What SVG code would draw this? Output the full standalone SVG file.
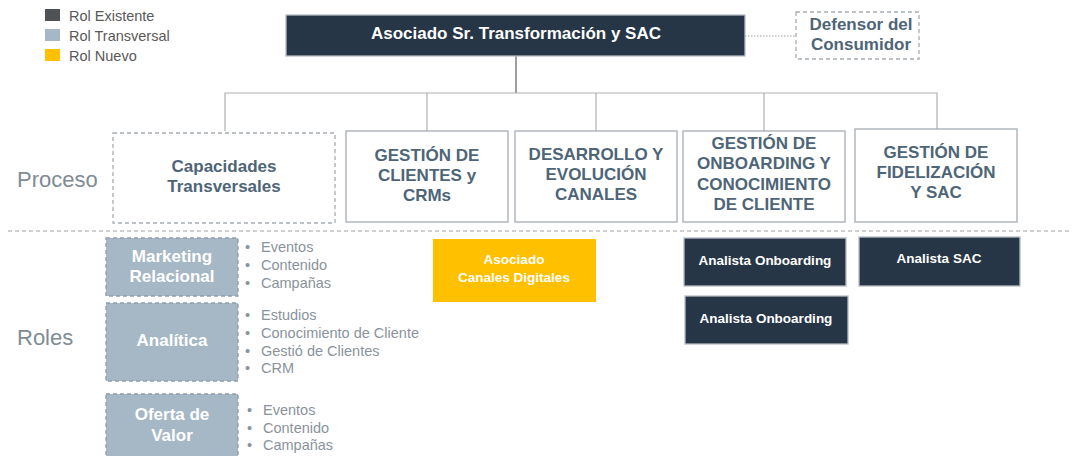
<svg xmlns="http://www.w3.org/2000/svg" width="1074" height="456" viewBox="0 0 1074 456">
<style>
text{font-family:"Liberation Sans",Arial,sans-serif}
.leg{font-size:14.5px;fill:#595959}
.proc{fill:#fff;stroke:#a6adb4;stroke-width:1.3}
.procd{fill:#fff;stroke:#a6adb4;stroke-width:1.3;stroke-dasharray:4 3}
.pt{font-size:17px;font-weight:bold;fill:#4e6578;text-anchor:middle}
.side{font-size:22px;fill:#7f8c96}
.trans{fill:#a6b8c6;stroke:#8e9daa;stroke-width:1.3;stroke-dasharray:4 3}
.tt{font-size:17px;font-weight:bold;fill:#fff;text-anchor:middle}
.bl{font-size:14.5px;fill:#8a939b}
.dark{fill:#263646;stroke:#b5bcc3;stroke-width:1.3}
.dt{font-size:13.5px;font-weight:bold;fill:#fff;text-anchor:middle}
.conn{fill:none;stroke:#b0b0b0;stroke-width:1.2}
</style>
<g id="legend">
<rect x="45" y="9" width="15" height="12" fill="#505356"/>
<rect x="45" y="29" width="15" height="12" fill="#a6b8c6"/>
<rect x="45" y="49" width="15" height="12" fill="#ffc000"/>
<text class="leg" x="69" y="21">Rol Existente</text>
<text class="leg" x="69" y="41">Rol Transversal</text>
<text class="leg" x="69" y="61">Rol Nuevo</text>
</g>
<g id="connectors">
<line x1="745" y1="36" x2="795" y2="36" stroke="#a0a0a0" stroke-width="1.2" stroke-dasharray="1.5 1.5"/>
<line x1="516" y1="56" x2="516" y2="93" stroke="#7f7f7f" stroke-width="1.5"/>
<polyline class="conn" points="225,131 225,93 937,93 937,129"/>
<line class="conn" x1="427" y1="93" x2="427" y2="131"/>
<line class="conn" x1="596" y1="93" x2="596" y2="131"/>
<line class="conn" x1="764" y1="93" x2="764" y2="131"/>
<line x1="8" y1="231" x2="1070" y2="231" stroke="#a0a0a0" stroke-width="1.2" stroke-dasharray="4 3"/>
</g>
<g id="top">
<rect class="dark" x="286" y="15" width="459" height="41"/>
<text x="516" y="39" font-size="17" font-weight="bold" fill="#fff" text-anchor="middle">Asociado Sr. Transformación y SAC</text>
</g>
<g id="defensor">
<rect class="procd" x="796" y="12" width="123" height="47"/>
<text class="pt" x="861" y="30">Defensor del</text>
<text class="pt" x="861" y="50">Consumidor</text>
</g>
<text class="side" x="17" y="187">Proceso</text>
<text class="side" x="17" y="345">Roles</text>
<g id="capacidades">
<rect class="procd" x="113" y="133" width="222" height="90"/>
<text class="pt" x="224" y="172">Capacidades</text>
<text class="pt" x="224" y="192">Transversales</text>
</g>
<g id="gestion-clientes">
<rect class="proc" x="346" y="131" width="162" height="91"/>
<text class="pt" x="427" y="161">GESTIÓN DE</text>
<text class="pt" x="427" y="181">CLIENTES y</text>
<text class="pt" x="427" y="201">CRMs</text>
</g>
<g id="desarrollo">
<rect class="proc" x="515" y="131" width="162" height="91"/>
<text class="pt" x="596" y="160">DESARROLLO Y</text>
<text class="pt" x="596" y="180">EVOLUCIÓN</text>
<text class="pt" x="596" y="200">CANALES</text>
</g>
<g id="onboarding">
<rect class="proc" x="683" y="131" width="162" height="91"/>
<text class="pt" x="764" y="149">GESTIÓN DE</text>
<text class="pt" x="764" y="169">ONBOARDING Y</text>
<text class="pt" x="764" y="190">CONOCIMIENTO</text>
<text class="pt" x="764" y="210">DE CLIENTE</text>
</g>
<g id="fidelizacion">
<rect class="proc" x="855" y="129" width="162" height="93"/>
<text class="pt" x="936" y="158">GESTIÓN DE</text>
<text class="pt" x="936" y="178">FIDELIZACIÓN</text>
<text class="pt" x="936" y="198">Y SAC</text>
</g>
<g id="marketing">
<rect class="trans" x="106" y="238" width="132" height="58"/>
<text class="tt" x="172" y="262">Marketing</text>
<text class="tt" x="172" y="282">Relacional</text>
<text class="bl" x="245" y="252">•</text><text class="bl" x="261" y="252">Eventos</text>
<text class="bl" x="245" y="270">•</text><text class="bl" x="261" y="270">Contenido</text>
<text class="bl" x="245" y="288">•</text><text class="bl" x="261" y="288">Campañas</text>
</g>
<g id="analitica">
<rect class="trans" x="106" y="303" width="132" height="78"/>
<text class="tt" x="172" y="346">Analítica</text>
<text class="bl" x="245" y="320">•</text><text class="bl" x="261" y="320">Estudios</text>
<text class="bl" x="245" y="338">•</text><text class="bl" x="261" y="338">Conocimiento de Cliente</text>
<text class="bl" x="245" y="356">•</text><text class="bl" x="261" y="356">Gestió de Clientes</text>
<text class="bl" x="245" y="373">•</text><text class="bl" x="261" y="373">CRM</text>
</g>
<g id="oferta">
<rect class="trans" x="106" y="394" width="132" height="70"/>
<text class="tt" x="172" y="420">Oferta de</text>
<text class="tt" x="172" y="441">Valor</text>
<text class="bl" x="247" y="415">•</text><text class="bl" x="263" y="415">Eventos</text>
<text class="bl" x="247" y="433">•</text><text class="bl" x="263" y="433">Contenido</text>
<text class="bl" x="247" y="450">•</text><text class="bl" x="263" y="450">Campañas</text>
</g>
<g id="canales-digitales">
<rect x="433" y="239" width="163" height="63" fill="#ffc000"/>
<text class="dt" x="514" y="264">Asociado</text>
<text class="dt" x="514" y="282">Canales Digitales</text>
</g>
<g id="analista-onboarding-1">
<rect class="dark" x="684" y="238" width="162" height="48"/>
<text class="dt" x="765" y="265">Analista Onboarding</text>
</g>
<g id="analista-sac">
<rect class="dark" x="859" y="237" width="161" height="49"/>
<text class="dt" x="939" y="263">Analista SAC</text>
</g>
<g id="analista-onboarding-2">
<rect class="dark" x="685" y="296" width="163" height="48"/>
<text class="dt" x="766" y="323">Analista Onboarding</text>
</g>
</svg>
